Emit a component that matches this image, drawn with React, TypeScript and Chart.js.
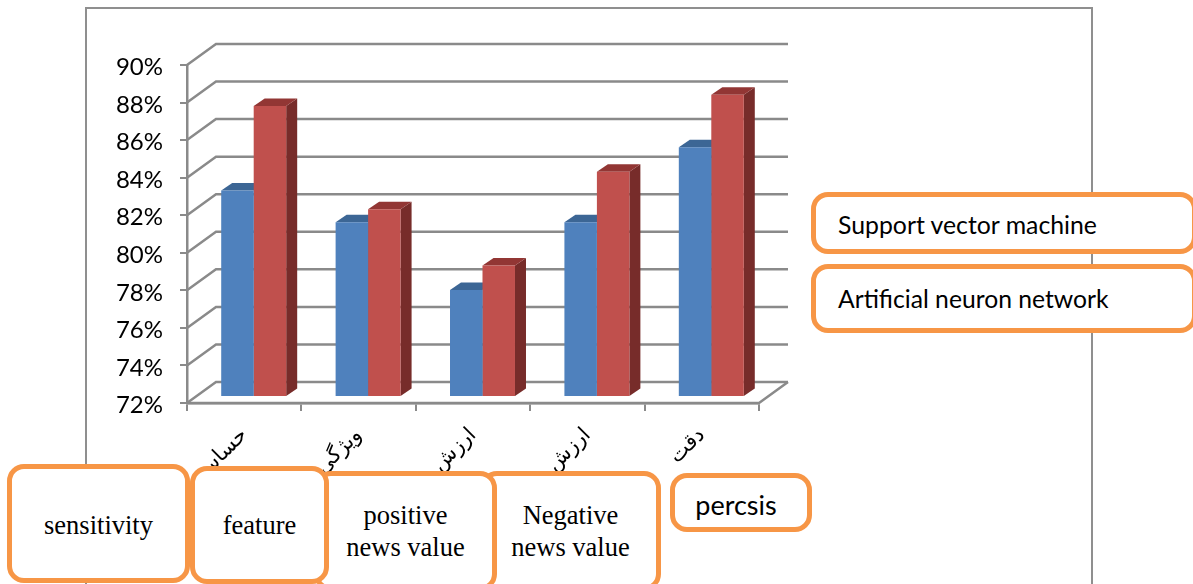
import React, { useEffect, useRef } from "react";
import { Chart, registerables } from "chart.js";

Chart.register(...registerables);

// Category labels on the horizontal axis
const categories = ["حساسیت", "ویژگی", "ارزش خبری مثبت", "ارزش خبری منفی", "دقت"];
// Scores in percent for the two classifiers
const supportVectorMachine = [83, 81.3, 77.7, 81.3, 85.3];
const artificialNeuronNetwork = [87.5, 82, 79, 84, 88.1];

const axisMin = 72;
const axisMax = 90;
const axisStep = 2;

const GRAY = "#8a8a8a";
const ORANGE = "#F79646";
const WALL_DX = 29;
const WALL_DY = -21;
const BAR_SHIFT_X = 9.5;
const BAR_SHIFT_Y = -6;
const DEPTH_X = 11;
const DEPTH_Y = -7.5;
const VALUE_LABEL_NUDGE = 2.5;

type Shade = { side: string; top: string };
const shades: Shade[] = [
  { side: "#2f5079", top: "#3c6695" },
  { side: "#772c2a", top: "#923634" },
];

function polygon(ctx: CanvasRenderingContext2D, pts: number[][], fill: string) {
  ctx.beginPath();
  pts.forEach(([x, y], i) => (i ? ctx.lineTo(x, y) : ctx.moveTo(x, y)));
  ctx.closePath();
  ctx.fillStyle = fill;
  ctx.fill();
}

// Page frame, back wall, side wall and floor of the pseudo-3D chart box
const wallsPlugin = {
  id: "walls",
  afterLayout(chart: any) {
    // Optical centring of the percent labels against their tick marks
    const yScale = chart.scales.y;
    if (yScale.$nudged) return;
    yScale.$nudged = true;
    const drawLabels = yScale.drawLabels.bind(yScale);
    yScale.drawLabels = (area: any) => {
      chart.ctx.save();
      chart.ctx.translate(0, VALUE_LABEL_NUDGE);
      drawLabels(area);
      chart.ctx.restore();
    };
  },
  beforeDraw(chart: any) {
    const { ctx, chartArea, scales } = chart;
    const { left, right, bottom } = chartArea;
    ctx.save();
    ctx.strokeStyle = "#8f8f8f";
    ctx.lineWidth = 2;
    ctx.beginPath();
    ctx.moveTo(86, 584);
    ctx.lineTo(86, 8);
    ctx.lineTo(1092, 8);
    ctx.lineTo(1092, 584);
    ctx.stroke();

    ctx.strokeStyle = GRAY;
    ctx.lineWidth = 2.5;
    scales.y.ticks.forEach((t: any) => {
      const y = scales.y.getPixelForValue(t.value);
      ctx.beginPath();
      ctx.moveTo(left, y);
      ctx.lineTo(left + WALL_DX, y + WALL_DY);
      ctx.lineTo(right + WALL_DX, y + WALL_DY);
      ctx.stroke();
    });
    ctx.beginPath();
    ctx.moveTo(left, bottom);
    ctx.lineTo(right, bottom);
    ctx.lineTo(right + WALL_DX, bottom + WALL_DY);
    ctx.stroke();
    ctx.restore();
  },
  // Side and top faces go down first; the bar elements then paint the fronts over them
  beforeDatasetsDraw(chart: any) {
    const { ctx } = chart;
    ctx.save();
    ctx.translate(BAR_SHIFT_X, BAR_SHIFT_Y);
    shades.forEach((shade, index) => {
      chart.getDatasetMeta(index).data.forEach((bar: any) => {
        const { x, y, base, width } = bar.getProps(["x", "y", "base", "width"]);
        const l = x - width / 2;
        const r = x + width / 2;
        polygon(ctx, [[r, y], [r + DEPTH_X, y + DEPTH_Y], [r + DEPTH_X, base + DEPTH_Y], [r, base]], shade.side);
        polygon(ctx, [[l, y], [l + DEPTH_X, y + DEPTH_Y], [r + DEPTH_X, y + DEPTH_Y], [r, y]], shade.top);
      });
    });
  },
  afterDatasetsDraw(chart: any) {
    chart.ctx.restore();
  },
};

type Note = {
  lines: string[];
  left: number;
  top: number;
  width: number;
  height: number;
  font: string;
  size: number;
  lineHeight?: number;
  textLeft?: number;
  textTop?: number;
  textRight?: number;
};

const SANS = "Lato, 'Open Sans', sans-serif";
const SERIF = "'Liberation Serif', serif";

// Later entries stack above earlier ones
const notes: Note[] = [
  { lines: ["Support vector machine"], left: 811, top: 192, width: 386, height: 62, font: SANS, size: 24.8, textLeft: 22, textTop: 3 },
  { lines: ["Artificial neuron network"], left: 811, top: 264, width: 386, height: 69, font: SANS, size: 24.7, textLeft: 22 },
  { lines: ["sensitivity"], left: 7, top: 464, width: 183, height: 119, font: SERIF, size: 26.5, textTop: 3 },
  { lines: ["Negative", "news value"], left: 480, top: 471, width: 181, height: 120, font: SERIF, size: 26.5, lineHeight: 32 },
  { lines: ["positive", "news value"], left: 314, top: 471, width: 183, height: 120, font: SERIF, size: 26.5, lineHeight: 32 },
  { lines: ["feature"], left: 190, top: 466, width: 139, height: 118, font: SERIF, size: 26.5 },
  { lines: ["percsis"], left: 670, top: 473, width: 142, height: 59, font: SANS, size: 27, textTop: 3, textRight: 10 },
];

export default function App() {
  const canvasRef = useRef<HTMLCanvasElement | null>(null);

  useEffect(() => {
    if (!canvasRef.current) return;
    const chart = new Chart(canvasRef.current, {
      type: "bar",
      data: {
        labels: categories,
        datasets: [
          {
            label: "Support vector machine",
            data: supportVectorMachine,
            backgroundColor: "#4F81BD",
            base: axisMin,
            clip: false,
          },
          {
            label: "Artificial neuron network",
            data: artificialNeuronNetwork,
            backgroundColor: "#C0504D",
            base: axisMin,
            clip: false,
          },
        ],
      },
      options: {
        animation: false,
        responsive: false,
        layout: { padding: { left: 0, right: 434, top: 65, bottom: 0 } },
        datasets: { bar: { barPercentage: 1, categoryPercentage: 0.568 } },
        plugins: { legend: { display: false }, tooltip: { enabled: false } },
        scales: {
          x: {
            afterFit(scale: any) {
              scale.height = 181;
            },
            border: { color: GRAY, width: 2.5 },
            grid: { drawOnChartArea: false, color: GRAY, lineWidth: 2, tickLength: 8 },
            ticks: {
              minRotation: 45,
              maxRotation: 45,
              padding: 12,
              color: "#000",
              font: { family: "'DejaVu Sans', 'Noto Sans', sans-serif", size: 21 },
            },
          },
          y: {
            min: axisMin,
            max: axisMax,
            afterFit(scale: any) {
              scale.width = 187;
            },
            border: { color: GRAY, width: 2.5 },
            grid: { drawOnChartArea: false, color: GRAY, lineWidth: 2, tickLength: 7 },
            ticks: {
              stepSize: axisStep,
              padding: 17,
              color: "#000",
              font: { family: SANS, size: 24 },
              callback: (v: any) => `${v}%`,
            },
          },
        },
      },
      plugins: [wallsPlugin],
    } as any);
    return () => chart.destroy();
  }, []);

  return (
    <>
      <canvas
        ref={canvasRef}
        width={1193}
        height={584}
        style={{ position: "fixed", left: 0, top: 0, display: "block" }}
      />
      {notes.map((n) => (
        <div
          key={n.lines.join(" ")}
          style={{
            position: "fixed",
            left: n.left,
            top: n.top,
            width: n.width,
            height: n.height,
            boxSizing: "border-box",
            border: `5px solid ${ORANGE}`,
            borderRadius: 17,
            background: "#fff",
            color: "#000",
            display: "flex",
            flexDirection: "column",
            justifyContent: "center",
            alignItems: n.textLeft ? "flex-start" : "center",
            paddingLeft: n.textLeft ?? 0,
            paddingTop: n.textTop ?? 0,
            paddingRight: n.textRight ?? 0,
            fontFamily: n.font,
            fontSize: n.size,
            lineHeight: `${n.lineHeight ?? Math.round(n.size + 6)}px`,
            whiteSpace: "nowrap",
          }}
        >
          {n.lines.map((line) => (
            <span key={line}>{line}</span>
          ))}
        </div>
      ))}
    </>
  );
}
